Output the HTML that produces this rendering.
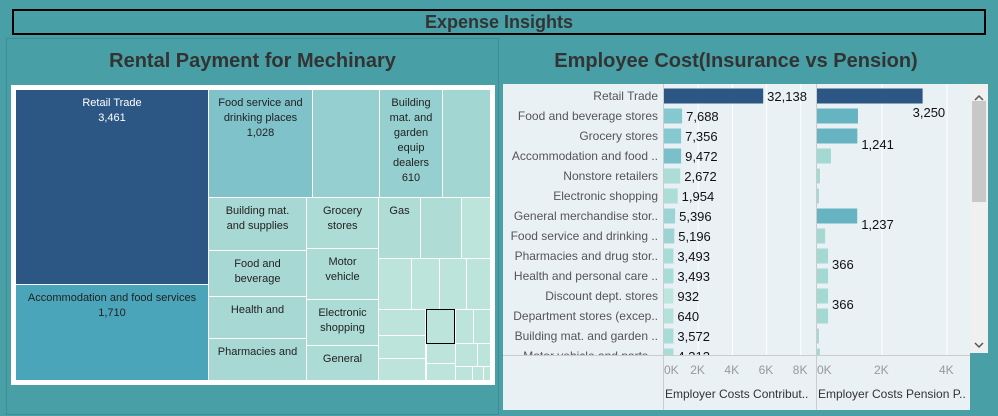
<!DOCTYPE html>
<html><head><meta charset="utf-8"><style>
body{margin:0;width:998px;height:416px;background:#48a0a6;position:relative;overflow:hidden;font-family:"Liberation Sans","DejaVu Sans",sans-serif}
.abs{position:absolute}
.tm{position:absolute;box-sizing:border-box;border-right:1px solid #fff;border-bottom:1px solid #fff;font-size:11px;color:#222;text-align:center;line-height:15px;padding-top:6px}
</style></head><body>
<div class="abs" style="left:12px;top:9px;width:974px;height:26px;box-sizing:border-box;border:2px solid #000;text-align:center;font-weight:bold;font-size:18px;line-height:23px;color:#333">Expense Insights</div>
<div class="abs" style="left:6px;top:38px;width:493px;height:377px;box-sizing:border-box;border:1px solid #3f8d94"></div>
<div class="abs" style="left:6px;top:50px;width:493px;text-align:center;font-weight:bold;font-size:20px;color:#333">Rental Payment for Mechinary</div>
<div class="abs" style="left:11px;top:85px;width:484px;height:300px;background:#fff"></div>
<div id="tm"></div>
<div class="abs" style="left:500px;top:50px;width:472px;text-align:center;font-weight:bold;font-size:20px;color:#333">Employee Cost(Insurance vs Pension)</div>
<svg class="abs" style="left:503px;top:84px" width="485" height="326" id="bc"></svg>
<script>
// treemap cells: [label, value, x, y, w, h, color]
const tmCells=[
["Retail Trade","3,461",16,90,193,195,"#2c5784"],
["Accommodation and food services","1,710",16,285,193,96,"#4ba5ba"],
["Food service and\ndrinking places","1,028",209,90,104,108,"#7fc2ca"],
["","",313,90,67,108,"#96cfcf"],
["Building\nmat. and\ngarden\nequip\ndealers","610",380,90,63,108,"#96cfcf"],
["","",443,90,48,108,"#a1d6d2"],
["Building mat.\nand supplies","",209,198,98,53,"#a8d8d3"],
["Food and\nbeverage","",209,251,98,46,"#a8d8d3"],
["Health and","",209,297,98,42,"#a8d8d3"],
["Pharmacies and","",209,339,98,42,"#a8d8d3"],
["Grocery\nstores","",307,198,72,51,"#acdcd5"],
["Motor\nvehicle","",307,249,72,51,"#acdcd5"],
["Electronic\nshopping","",307,300,72,46,"#acdcd5"],
["General","",307,346,72,35,"#acdcd5"],
["Gas","",379,198,42,61,"#b0dcd6"],
["","",421,198,41,61,"#b0dcd6"],
["","",462,198,29,61,"#bce4da"],
["","",379,259,33,51,"#bce4da"],
["","",412,259,28,51,"#bce4da"],
["","",440,259,27,51,"#bce4da"],
["","",467,259,24,51,"#bce4da"],
["","",379,310,47,26,"#bce4da"],
["","",379,336,47,23,"#bce4da"],
["","",379,359,47,22,"#bce4da"],
["","",426,310,30,34,"#bce4da"],
["","",456,310,18,34,"#bce4da"],
["","",474,310,17,34,"#bce4da"],
["","",427,344,29,20,"#bce4da"],
["","",427,364,29,17,"#bce4da"],
["","",456,344,22,23,"#bce4da"],
["","",478,344,13,23,"#bce4da"],
["","",456,367,17,14,"#bce4da"],
["","",473,367,11,14,"#bce4da"],
["","",484,367,7,14,"#bce4da"]];
const tm=document.getElementById('tm');
tmCells.forEach(c=>{const d=document.createElement('div');d.className='tm';


d.style.cssText=`left:${c[2]}px;top:${c[3]}px;width:${c[4]}px;height:${c[5]}px;background:${c[6]};`+(c[6]=="#2c5784"?"color:#fff;":"");
d.innerHTML=c[0].replace(/\n/g,'<br>')+(c[1]?'<br>'+c[1]:'');tm.appendChild(d);});
const sel=document.createElement('div');


sel.style.cssText='position:absolute;left:426px;top:309px;width:29px;height:35px;box-sizing:border-box;border:1.5px solid #000;background:#bce4da';tm.appendChild(sel);
</script>
<script>
const categories=["Retail Trade","Food and beverage stores","Grocery stores","Accommodation and food ..","Nonstore retailers","Electronic shopping","General merchandise stor..","Food service and drinking ..","Pharmacies and drug stor..","Health and personal care ..","Discount dept. stores","Department stores (excep..","Building mat. and garden ..","Motor vehicle and parts .."];
const insuranceBar=[5.8,1.06,1.0,1.0,0.95,0.8,0.65,0.6,0.55,0.55,0.55,0.55,0.55,0.55];
const insuranceLabels=["32,138","7,688","7,356","9,472","2,672","1,954","5,396","5,196","3,493","3,493","932","640","3,572","4,312"];
const pensionValues=[3.25,1.26,1.241,0.43,0.09,0.06,1.237,0.25,0.34,0.34,0.34,0.34,0.06,0.09];
const pensionLabels=["3,250","","1,241","","","","1,237","","366","","366","","",""];
const insColors=["#2c5784","#86c8cf","#86c8cf","#7ac0cb","#acddd6","#acddd6","#9dd3d4","#9dd3d4","#a8dcd6","#a8dcd6","#bde6dd","#b4e1d9","#a8dcd6","#a8dcd6"];
const penColors=["#2c5784","#66b4c2","#66b4c2","#a4d9d3","#a4d9d3","#a4d9d3","#66b4c2","#a4d9d3","#a4d9d3","#a4d9d3","#a4d9d3","#a4d9d3","#a4d9d3","#a4d9d3"];
const insTicks=[0,2,4,6,8];
const penTicks=[0,2,4];
const NS="http://www.w3.org/2000/svg";
const svg=document.getElementById('bc');
function el(t,a,p){const e=document.createElementNS(NS,t);for(const k in a)e.setAttribute(k,a[k]);(p||svg).appendChild(e);return e;}
const x1=v=>161+v*17.1, x2=v=>314+v*32.5, yRow=i=>12+i*20;
const bg=el('rect',{x:0,y:0,width:467,height:326,fill:'#e9f1f5'});


const clip=el('clipPath',{id:'cp'});el('rect',{x:0,y:0,width:467,height:271},clip);
const g=el('g',{'clip-path':'url(#cp)'});
insTicks.forEach(t=>{if(t>0)el('line',{x1:x1(t),x2:x1(t),y1:0,y2:271,stroke:'#fff','stroke-width':1},g);});
penTicks.forEach(t=>{if(t>0)el('line',{x1:x2(t),x2:x2(t),y1:0,y2:271,stroke:'#fff','stroke-width':1},g);});
categories.forEach((c,i)=>{const y=yRow(i);
 const t=el('text',{x:155,y:y+4,'text-anchor':'end','font-size':12,fill:'#555'},g);t.textContent=c;
 
 
 const r=el('rect',{x:x1(0),y:y-7.5,width:x1(insuranceBar[i])-x1(0),height:15,fill:insColors[i]},g);
 
 
 const lt=el('text',{x:x1(insuranceBar[i])+4,y:y+5,'font-size':13,fill:'#111'},g);lt.textContent=insuranceLabels[i];
 const r2=el('rect',{x:x2(0),y:y-7.5,width:x2(pensionValues[i])-x2(0),height:15,fill:penColors[i]},g);
 
 
 if(pensionLabels[i]){const p=el('text',{x:x2(pensionValues[i])+(i==0?-10:4),y:y+13+(i==0?8:0),'font-size':13,fill:'#111'},g);p.textContent=pensionLabels[i];}
});
el('line',{x1:160.5,x2:160.5,y1:0,y2:326,stroke:'#ccc'});
el('line',{x1:313.5,x2:313.5,y1:0,y2:326,stroke:'#ccc'});
el('line',{x1:0,x2:467,y1:271.5,y2:271.5,stroke:'#ccc'});
insTicks.forEach(t=>{const e=el('text',{x:x1(t)+(t==0?0:-8),y:290,'font-size':12,fill:'#999'});e.textContent=t+'K';});
penTicks.forEach(t=>{const e=el('text',{x:x2(t)+(t==0?0:-8),y:290,'font-size':12,fill:'#999'});e.textContent=t+'K';});
const a1=el('text',{x:162,y:314,'font-size':12,fill:'#333'});a1.textContent='Employer Costs Contribut..';


const a2=el('text',{x:315,y:314,'font-size':12,fill:'#333'});a2.textContent='Employer Costs Pension P..';


const sb=el('rect',{x:467,y:0,width:18,height:269,fill:'#f0f0f0'});


const th=el('rect',{x:469,y:17,width:14,height:101,fill:'#c8c8c8'});


el('path',{d:'M472 16 L476 12 L480 16',stroke:'#555',fill:'none','stroke-width':1.5});
el('path',{d:'M472 259 L476 263 L480 259',stroke:'#555',fill:'none','stroke-width':1.5});
</script>
</body></html>
